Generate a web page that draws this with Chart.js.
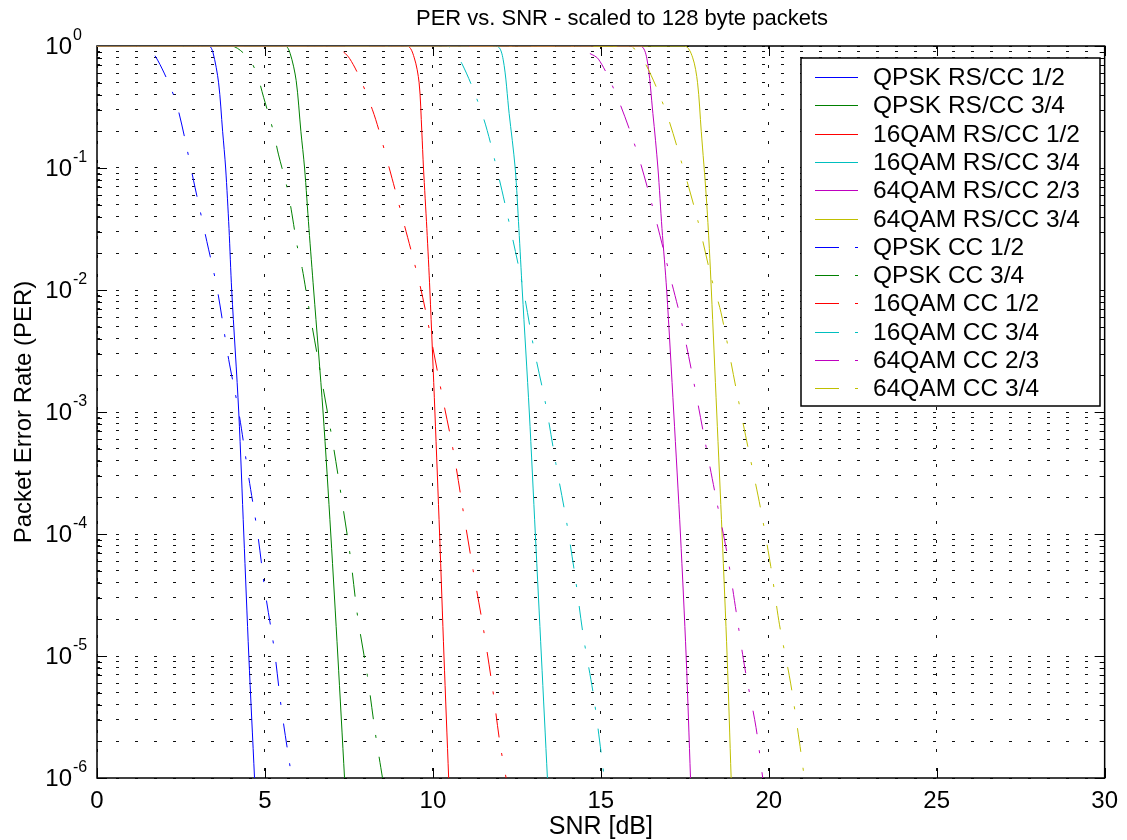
<!DOCTYPE html>
<html>
<head>
<meta charset="utf-8">
<title>PER vs. SNR</title>
<script src="https://cdn.jsdelivr.net/npm/chart.js@4.4.1/dist/chart.umd.min.js"></script>
<style>
  html, body { margin: 0; padding: 0; background: #fff; }
  #wrap { width: 1127px; height: 840px; position: relative; }
</style>
</head>
<body>
<div id="wrap"><canvas id="perChart"></canvas></div>
<script>
// ---- Data ----
const seriesLabels = [
  'QPSK RS/CC 1/2', 'QPSK RS/CC 3/4', '16QAM RS/CC 1/2', '16QAM RS/CC 3/4',
  '64QAM RS/CC 2/3', '64QAM RS/CC 3/4', 'QPSK CC 1/2', 'QPSK CC 3/4',
  '16QAM CC 1/2', '16QAM CC 3/4', '64QAM CC 2/3', '64QAM CC 3/4'
];
const seriesColors = ['#0000ff', '#008000', '#ff0000', '#00bfbf', '#bf00bf', '#bfbf00',
                      '#0000ff', '#008000', '#ff0000', '#00bfbf', '#bf00bf', '#bfbf00'];

const xTicks = [0, 5, 10, 15, 20, 25, 30];
const yDecades = [0, -1, -2, -3, -4, -5, -6];
const ySignificands = [1, 2, 3, 4, 5, 6, 7, 8, 9];

// RS/CC (garis solid)
const snrQpskRs12 = [0, 3.33, 3.45, 3.62, 3.74, 3.83, 3.93, 4.01, 4.22, 4.37, 4.52, 4.69];
const perQpskRs12 = [1, 1, 0.89, 0.5, 0.2, 0.1, 0.032, 0.01, 0.001, 1e-4, 1e-5, 1e-6];

const snrQpskRs34 = [0, 5.6, 5.75, 5.93, 6.07, 6.18, 6.31, 6.45, 6.73, 6.96, 7.17, 7.37];
const perQpskRs34 = [1, 1, 0.87, 0.52, 0.2, 0.1, 0.032, 0.01, 0.001, 1e-4, 1e-5, 1e-6];

const snr16qamRs12 = [0, 9.23, 9.44, 9.59, 9.67, 9.72, 9.82, 9.91, 10.06, 10.2, 10.33, 10.47];
const per16qamRs12 = [1, 1, 0.81, 0.5, 0.2, 0.1, 0.032, 0.01, 0.001, 1e-4, 1e-5, 1e-6];

const snr16qamRs34 = [0, 11.89, 12.09, 12.27, 12.45, 12.56, 12.66, 12.87, 13.05, 13.23, 13.41];
const per16qamRs34 = [1, 1, 0.78, 0.28, 0.1, 0.032, 0.01, 0.001, 1e-4, 1e-5, 1e-6];

const snr64qamRs23 = [0, 16.17, 16.37, 16.55, 16.7, 16.82, 16.96, 17.17, 17.37, 17.54, 17.67];
const per64qamRs23 = [1, 1, 0.79, 0.28, 0.1, 0.032, 0.01, 0.001, 1e-4, 1e-5, 1e-6];

const snr64qamRs34 = [0, 17.49, 17.73, 17.88, 17.99, 18.14, 18.23, 18.29, 18.45, 18.61, 18.76, 18.88];
const per64qamRs34 = [1, 1, 0.81, 0.5, 0.2, 0.058, 0.022, 0.01, 0.001, 1e-4, 1e-5, 1e-6];

// CC saja (garis titik-strip)
const snrQpskCc12 = [0, 1.3, 1.6, 2.0, 2.39, 2.92, 3.27, 3.57, 3.92, 4.22, 4.51, 4.78, 5.01, 5.28, 5.49, 5.75, 5.8];
const perQpskCc12 = [1, 1, 0.93, 0.6, 0.32, 0.069, 0.025, 0.0105, 0.0027, 0.001, 3e-4, 1.02e-4, 3.3e-5, 1.12e-5, 3.7e-6, 1.23e-6, 1e-6];

const snrQpskCc34 = [0, 4.0, 4.5, 4.75, 4.96, 5.25, 5.4, 5.66, 5.78, 5.96, 6.11, 6.28, 6.58, 7.02, 7.29, 7.55, 7.76, 8.05, 8.29, 8.5];
const perQpskCc34 = [1, 1, 0.8, 0.6, 0.38, 0.2, 0.13, 0.069, 0.046, 0.023, 0.015, 0.0079, 0.0027, 5.6e-4, 1.9e-4, 6.3e-5, 2.1e-5, 6.9e-6, 2.3e-6, 1e-6];

const snr16qamCc12 = [0, 6.96, 7.52, 8.2, 8.7, 9.14, 9.59, 9.82, 10.29, 10.62, 10.91, 11.2, 11.5, 11.77, 12.0, 12.18];
const per16qamCc12 = [1, 1, 0.79, 0.3, 0.1, 0.035, 0.0117, 0.006, 0.0013, 4.6e-4, 1.5e-4, 5e-5, 1.7e-5, 5.6e-6, 1.9e-6, 1e-6];

const snr16qamCc34 = [0, 10.41, 10.86, 11.5, 11.95, 12.33, 12.68, 13.0, 13.36, 13.66, 13.98, 14.25, 14.48, 14.78, 15.01, 15.1];
const per16qamCc34 = [1, 1, 0.72, 0.26, 0.087, 0.03, 0.0105, 0.0034, 0.00115, 3.8e-4, 1.26e-4, 4.2e-5, 1.45e-5, 4.8e-6, 1.6e-6, 1e-6];

const snr64qamCc23 = [0, 14.4, 14.54, 14.93, 15.49, 16.08, 16.55, 17.11, 17.4, 17.76, 18.08, 18.41, 18.76, 19.03, 19.29, 19.62, 19.82];
const per64qamCc23 = [1, 1, 0.91, 0.78, 0.38, 0.135, 0.047, 0.0115, 0.0055, 0.0018, 6.2e-4, 2.1e-4, 6.9e-5, 2.3e-5, 7.9e-6, 2.6e-6, 1e-6];

const snr64qamCc34 = [0, 15.81, 16.22, 16.9, 17.43, 17.9, 18.29, 18.58, 19.06, 19.41, 19.76, 20.06, 20.32, 20.65, 20.91, 21.06];
const per64qamCc34 = [1, 1, 0.81, 0.31, 0.105, 0.036, 0.0126, 0.0065, 0.0014, 4.7e-4, 1.6e-4, 5.4e-5, 1.8e-5, 6e-6, 2e-6, 1e-6];

const seriesSnr = [snrQpskRs12, snrQpskRs34, snr16qamRs12, snr16qamRs34, snr64qamRs23, snr64qamRs34,
                   snrQpskCc12, snrQpskCc34, snr16qamCc12, snr16qamCc34, snr64qamCc23, snr64qamCc34];
const seriesPer = [perQpskRs12, perQpskRs34, per16qamRs12, per16qamRs34, per64qamRs23, per64qamRs34,
                   perQpskCc12, perQpskCc34, per16qamCc12, per16qamCc34, per64qamCc23, per64qamCc34];

// ---- Gaya ----
const FONT = "'Liberation Sans', Arial, Helvetica, sans-serif";
const DASH_DOT = [24, 16, 3, 19];
const GRID_DASH = [3, 16];

Chart.defaults.font.family = FONT;
Chart.defaults.color = '#000';

// Bangun dataset dari array di atas
const datasets = seriesLabels.map((label, i) => ({
  label: label,
  data: seriesSnr[i].map((x, k) => ({ x: x, y: seriesPer[i][k] })),
  borderColor: seriesColors[i],
  backgroundColor: seriesColors[i],
  borderWidth: 1,
  borderDash: i < 6 ? [] : DASH_DOT,
  pointRadius: 0,
  fill: false,
  showLine: true,
  tension: 0.3,
  order: seriesLabels.length - i  // seri terakhir digambar paling atas (seperti MATLAB)
}));

// Plugin: kotak sumbu, tick ke dalam, label 10^n, judul, legenda
const matlabAxes = {
  id: 'matlabAxes',
  beforeDatasetsDraw(chart) {
    const { ctx, chartArea: a, scales } = chart;
    ctx.save();
    ctx.strokeStyle = '#000';
    ctx.lineWidth = 1;
    ctx.setLineDash([]);
    ctx.beginPath();
    // tick y (kiri & kanan)
    scales.y.ticks.forEach(t => {
      const y = Math.round(scales.y.getPixelForValue(t.value)) + 0.5;
      const len = yDecades.some(d => Math.abs(Math.log10(t.value) - d) < 1e-9) ? 10 : 5;
      ctx.moveTo(a.left, y); ctx.lineTo(a.left + len, y);
      ctx.moveTo(a.right, y); ctx.lineTo(a.right - len, y);
    });
    // tick x (bawah & atas)
    xTicks.forEach(v => {
      const x = Math.round(scales.x.getPixelForValue(v)) + 0.5;
      ctx.moveTo(x, a.bottom); ctx.lineTo(x, a.bottom - 10);
      ctx.moveTo(x, a.top); ctx.lineTo(x, a.top + 10);
    });
    ctx.stroke();
    ctx.lineWidth = 1.5;
    ctx.strokeRect(a.left, a.top, a.right - a.left, a.bottom - a.top);
    ctx.restore();
  },
  afterDraw(chart) {
    const { ctx, scales } = chart;
    ctx.save();
    ctx.fillStyle = '#000';

    // Label sumbu Y: 10 pangkat n
    yDecades.forEach(d => {
      const y = scales.y.getPixelForValue(Math.pow(10, d));
      ctx.font = '24px ' + FONT;
      ctx.textAlign = 'right';
      ctx.textBaseline = 'middle';
      ctx.fillText('10', 72, y + 1);
      ctx.font = '16px ' + FONT;
      ctx.textAlign = 'left';
      ctx.fillText(String(d), 73, y - 10);
    });

    // Judul
    ctx.font = '22px ' + FONT;
    ctx.textAlign = 'center';
    ctx.textBaseline = 'middle';
    ctx.fillText('PER vs. SNR - scaled to 128 byte packets', 622, 19);

    // Legenda
    const bx = 801, by = 58, bw = 299, bh = 348;
    ctx.fillStyle = '#fff';
    ctx.fillRect(bx, by, bw, bh);
    ctx.strokeStyle = '#000';
    ctx.lineWidth = 1.5;
    ctx.strokeRect(bx, by, bw, bh);
    ctx.font = '24.5px ' + FONT;
    ctx.textAlign = 'left';
    chart.data.datasets.forEach((ds, i) => {
      const y = Math.round(77 + i * 28.3) + 0.5;
      ctx.strokeStyle = ds.borderColor;
      ctx.lineWidth = 1;
      ctx.setLineDash(ds.borderDash);
      ctx.beginPath();
      ctx.moveTo(815, y);
      ctx.lineTo(858, y);
      ctx.stroke();
      ctx.setLineDash([]);
      ctx.fillStyle = '#000';
      ctx.fillText(ds.label, 873, y + 1);
    });
    ctx.restore();
  }
};

new Chart(document.getElementById('perChart'), {
  type: 'scatter',
  data: { datasets: datasets },
  options: {
    responsive: true,
    maintainAspectRatio: false,
    animation: false,
    layout: { padding: { top: 46, right: 13, left: 0, bottom: 0 } },
    plugins: {
      legend: { display: false },
      tooltip: { enabled: false },
      title: { display: false }
    },
    scales: {
      x: {
        type: 'linear',
        min: 0,
        max: 30,
        afterBuildTicks: axis => { axis.ticks = xTicks.map(v => ({ value: v })); },
        afterFit: axis => { axis.height = 62; },
        ticks: { font: { size: 24 }, padding: 9, autoSkip: false, maxRotation: 0 },
        grid: { color: '#111', lineWidth: 1, drawTicks: false },
        border: { display: false, dash: GRID_DASH },
        title: {
          display: true,
          text: 'SNR [dB]',
          font: { size: 25, lineHeight: 1 },
          padding: { top: 0, bottom: 0 }
        }
      },
      y: {
        type: 'logarithmic',
        min: 1e-6,
        max: 1,
        afterBuildTicks: axis => {
          const t = [];
          yDecades.slice().reverse().forEach(d => {
            ySignificands.forEach(s => {
              if (d === 0 && s > 1) return;
              t.push({ value: s * Math.pow(10, d) });
            });
          });
          axis.ticks = t;
        },
        afterFit: axis => { axis.width = 97; },
        ticks: { display: false, autoSkip: false },
        grid: { color: '#111', lineWidth: 1, drawTicks: false },
        border: { display: false, dash: GRID_DASH },
        title: {
          display: true,
          text: 'Packet Error Rate (PER)',
          font: { size: 24, lineHeight: 1 },
          padding: { top: 12, bottom: 0 }
        }
      }
    }
  },
  plugins: [matlabAxes]
});
</script>
</body>
</html>
